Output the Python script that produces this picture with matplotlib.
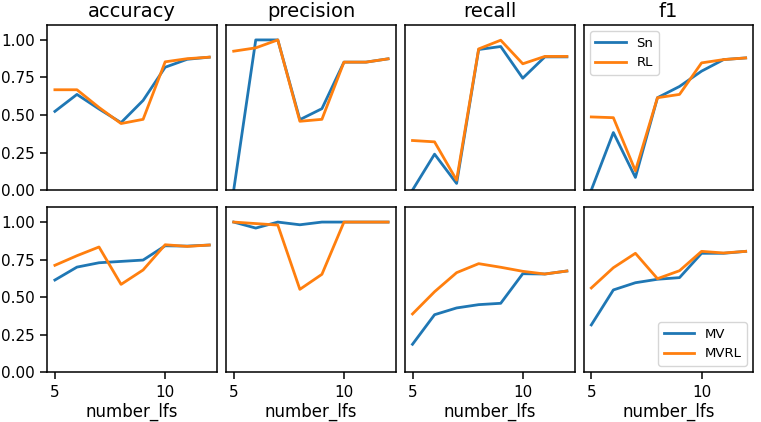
import numpy as np
import matplotlib.pyplot as plt

number_lfs = [5, 6, 7, 8, 9, 10, 11, 12]
metrics = ["accuracy", "precision", "recall", "f1"]

# top row: Sn vs RL
sn = {
    "accuracy":  [0.524, 0.637, 0.54, 0.449, 0.597, 0.818, 0.871, 0.885],
    "precision": [0.0, 1.0, 1.0, 0.469, 0.542, 0.852, 0.852, 0.874],
    "recall":    [0.0, 0.239, 0.044, 0.936, 0.956, 0.745, 0.887, 0.887],
    "f1":        [0.0, 0.383, 0.084, 0.615, 0.690, 0.792, 0.869, 0.880],
}
rl = {
    "accuracy":  [0.668, 0.668, 0.55, 0.443, 0.471, 0.854, 0.875, 0.885],
    "precision": [0.925, 0.947, 1.0, 0.458, 0.471, 0.852, 0.852, 0.874],
    "recall":    [0.330, 0.321, 0.066, 0.940, 0.998, 0.841, 0.890, 0.890],
    "f1":        [0.487, 0.482, 0.128, 0.615, 0.637, 0.847, 0.869, 0.880],
}

# bottom row: MV vs MVRL
mv = {
    "accuracy":  [0.614, 0.700, 0.729, 0.738, 0.747, 0.842, 0.840, 0.847],
    "precision": [1.0, 0.960, 1.0, 0.982, 1.0, 1.0, 1.0, 1.0],
    "recall":    [0.186, 0.383, 0.428, 0.450, 0.459, 0.656, 0.654, 0.674],
    "f1":        [0.315, 0.548, 0.596, 0.619, 0.630, 0.792, 0.792, 0.805],
}
mvrl = {
    "accuracy":  [0.712, 0.776, 0.834, 0.585, 0.681, 0.849, 0.838, 0.847],
    "precision": [1.0, 0.990, 0.980, 0.552, 0.652, 1.0, 1.0, 1.0],
    "recall":    [0.388, 0.536, 0.663, 0.723, 0.699, 0.672, 0.654, 0.674],
    "f1":        [0.561, 0.696, 0.792, 0.623, 0.676, 0.805, 0.794, 0.805],
}

fig, axes = plt.subplots(2, 4, figsize=(7.61, 4.22), dpi=100, sharex=True, sharey=True)
fig.subplots_adjust(left=0.062, right=0.990, top=0.941, bottom=0.118, wspace=0.053, hspace=0.103)

for j, m in enumerate(metrics):
    ax = axes[0, j]
    ax.plot(number_lfs, sn[m], color="#1f77b4", lw=2, label="Sn")
    ax.plot(number_lfs, rl[m], color="#ff7f0e", lw=2, label="RL")
    ax.set_title(m, fontsize=14)

    ax = axes[1, j]
    ax.plot(number_lfs, mv[m], color="#1f77b4", lw=2, label="MV")
    ax.plot(number_lfs, mvrl[m], color="#ff7f0e", lw=2, label="MVRL")
    ax.set_xlabel("number_lfs", fontsize=12, labelpad=2)

for i in range(2):
    for j in range(4):
        ax = axes[i, j]
        ax.set_ylim(0, 1.1)
        ax.set_xticks([5, 10])
        ax.set_yticks([0, 0.25, 0.5, 0.75, 1.0])
        ax.tick_params(labelsize=11, length=5, width=1.1, pad=4)
        if i == 0:
            ax.tick_params(bottom=False)
        if j > 0:
            ax.tick_params(left=False)
        for s in ax.spines.values():
            s.set_linewidth(1.1)
axes[0, 0].yaxis.set_major_formatter(plt.FormatStrFormatter("%.2f"))

axes[0, 3].legend(loc="upper left", fontsize=9.5, handlelength=2.3)
axes[1, 3].legend(loc="lower right", fontsize=9.5, handlelength=2.3)

plt.savefig("out.png")
